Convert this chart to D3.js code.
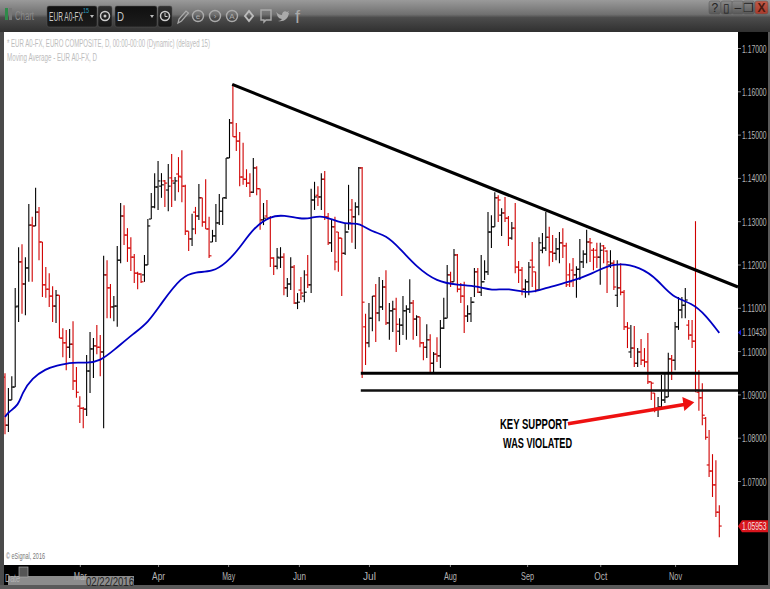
<!DOCTYPE html>
<html>
<head>
<meta charset="utf-8">
<script src="https://cdnjs.cloudflare.com/ajax/libs/d3/7.8.5/d3.min.js"></script>
<style>
html, body { margin: 0; padding: 0; background: #000; }
svg { display: block; }
text { font-family: "Liberation Sans", sans-serif; }
.axis path { display: none; }
.axis line { stroke: #888; }
.axis text { fill: #b4b4b4; font-size: 11px; }
</style>
</head>
<body>
<script>
// daily EUR A0-FX bars
const highs = [
1.0949,1.0915,1.0942,1.1146,1.1240,1.1247,1.1217,1.1340,1.1310,1.1377,
1.1333,1.1252,1.1194,1.1180,1.1150,1.1141,1.1129,1.1053,1.1049,1.1051,
1.1069,1.0963,1.0896,1.0871,1.0991,1.1044,1.1030,1.1060,1.1037,1.1220,
1.1210,1.1155,1.1127,1.1243,1.1342,1.1337,1.1284,1.1263,1.1224,1.1183,
1.1180,1.1222,1.1305,1.1365,1.1411,1.1439,1.1411,1.1395,1.1432,1.1455,
1.1402,1.1448,1.1464,1.1384,1.1277,1.1317,1.1333,1.1386,1.1354,1.1397,
1.1310,1.1280,1.1340,1.1363,1.1354,1.1446,1.1536,1.1617,1.1527,1.1506,
1.1481,1.1420,1.1411,1.1446,1.1427,1.1375,1.1342,1.1349,1.1312,1.1217,
1.1238,1.1240,1.1226,1.1169,1.1217,1.1199,1.1134,1.1171,1.1187,1.1222,
1.1375,1.1391,1.1381,1.1411,1.1416,1.1319,1.1303,1.1310,1.1275,1.1261,
1.1296,1.1384,1.1351,1.1344,1.1425,1.1425,1.1086,1.1111,1.1127,1.1155,
1.1171,1.1164,1.1187,1.1111,1.1116,1.1123,1.1076,1.1127,1.1106,1.1166,
1.1118,1.1083,1.1079,1.1021,1.1062,1.1039,1.0998,1.1032,1.1072,1.1123,
1.1199,1.1183,1.1236,1.1224,1.1157,1.1160,1.1106,1.1125,1.1192,1.1192,
1.1222,1.1210,1.1321,1.1314,1.1367,1.1360,1.1330,1.1356,1.1312,1.1298,
1.1342,1.1208,1.1194,1.1166,1.1206,1.1252,1.1183,1.1263,1.1273,1.1321,
1.1287,1.1268,1.1261,1.1275,1.1284,1.1250,1.1203,1.1215,1.1196,1.1259,
1.1233,1.1280,1.1261,1.1238,1.1250,1.1250,1.1245,1.1233,1.1233,1.1210,
1.1210,1.1203,1.1141,1.1067,1.1060,1.1058,1.1007,1.1028,1.1007,1.1042,
1.0929,1.0903,1.0894,1.0945,1.0949,1.0996,1.0991,1.1067,1.1125,1.1125,
1.1146,1.1072,1.1072,1.1300,1.0956,1.0926,1.0848,1.0818,1.0762,1.0748,1.0644];

const lows = [
1.0808,1.0813,1.0887,1.0917,1.1067,1.1086,1.1083,1.1160,1.1160,1.1289,
1.1210,1.1125,1.1123,1.1102,1.1067,1.1065,1.1030,1.0986,1.0956,1.0984,
1.0910,1.0892,1.0834,1.0822,1.0850,1.0903,1.0938,1.0993,1.0942,1.0822,
1.1076,1.1076,1.1069,1.1056,1.1203,1.1245,1.1206,1.1185,1.1157,1.1143,
1.1157,1.1160,1.1199,1.1305,1.1330,1.1326,1.1354,1.1333,1.1323,1.1333,
1.1347,1.1367,1.1344,1.1268,1.1231,1.1243,1.1270,1.1303,1.1287,1.1282,
1.1215,1.1252,1.1252,1.1291,1.1291,1.1351,1.1446,1.1495,1.1462,1.1381,
1.1384,1.1379,1.1356,1.1365,1.1360,1.1280,1.1291,1.1307,1.1194,1.1176,
1.1189,1.1192,1.1129,1.1125,1.1141,1.1109,1.1097,1.1118,1.1113,1.1146,
1.1134,1.1326,1.1335,1.1326,1.1303,1.1245,1.1229,1.1187,1.1183,1.1127,
1.1222,1.1280,1.1250,1.1236,1.1314,1.0938,1.0968,1.1009,1.1046,1.1021,
1.1069,1.1095,1.1060,1.1026,1.1044,1.0998,1.1014,1.1037,1.1026,1.1088,
1.1026,1.1035,1.1009,1.0979,1.0984,1.0952,1.0952,1.0975,1.0961,1.1051,
1.1076,1.1148,1.1160,1.1136,1.1111,1.1042,1.1067,1.1067,1.1125,1.1134,
1.1127,1.1164,1.1176,1.1238,1.1287,1.1298,1.1266,1.1298,1.1243,1.1257,
1.1180,1.1157,1.1129,1.1123,1.1129,1.1148,1.1136,1.1141,1.1226,1.1231,
1.1196,1.1206,1.1210,1.1203,1.1215,1.1148,1.1148,1.1148,1.1123,1.1164,
1.1192,1.1203,1.1206,1.1187,1.1192,1.1153,1.1203,1.1134,1.1192,1.1141,
1.1102,1.1129,1.1049,1.1007,1.0984,1.0963,1.0963,1.0968,1.0963,1.0924,
1.0887,1.0859,1.0848,1.0871,1.0880,1.0894,1.0933,1.0956,1.1049,1.1076,
1.1076,1.1026,1.1007,1.0905,1.0862,1.0829,1.0795,1.0709,1.0663,1.0617,1.0570];

const opens = [
1.0940,1.0829,1.0887,1.0917,1.1104,1.1206,1.1155,1.1192,1.1291,1.1289,
1.1321,1.1252,1.1153,1.1143,1.1127,1.1104,1.1129,1.1030,1.1019,1.1009,
1.1016,1.0931,1.0873,1.0868,1.0866,1.0954,1.1005,1.1012,1.1009,1.0998,
1.1176,1.1146,1.1102,1.1104,1.1210,1.1312,1.1268,1.1238,1.1217,1.1180,
1.1178,1.1176,1.1199,1.1305,1.1333,1.1379,1.1381,1.1393,1.1372,1.1400,
1.1388,1.1409,1.1402,1.1381,1.1277,1.1259,1.1321,1.1312,1.1354,1.1298,
1.1282,1.1252,1.1266,1.1296,1.1323,1.1354,1.1446,1.1527,1.1495,1.1485,
1.1402,1.1397,1.1388,1.1367,1.1423,1.1375,1.1303,1.1312,1.1307,1.1215,
1.1196,1.1215,1.1217,1.1146,1.1155,1.1194,1.1111,1.1141,1.1127,1.1176,
1.1153,1.1349,1.1360,1.1356,1.1397,1.1310,1.1250,1.1287,1.1275,1.1261,
1.1226,1.1275,1.1326,1.1310,1.1333,1.1423,1.1056,1.1019,1.1076,1.1127,
1.1088,1.1102,1.1148,1.1065,1.1093,1.1097,1.1046,1.1060,1.1093,1.1097,
1.1111,1.1074,1.1079,1.1019,1.1009,1.1026,1.0972,1.0993,1.0989,1.1053,
1.1076,1.1176,1.1160,1.1222,1.1143,1.1127,1.1081,1.1086,1.1113,1.1183,
1.1136,1.1160,1.1183,1.1275,1.1287,1.1354,1.1314,1.1319,1.1307,1.1261,
1.1284,1.1194,1.1187,1.1143,1.1160,1.1210,1.1183,1.1141,1.1233,1.1238,
1.1263,1.1229,1.1226,1.1236,1.1250,1.1243,1.1176,1.1187,1.1176,1.1189,
1.1206,1.1224,1.1252,1.1233,1.1233,1.1217,1.1243,1.1231,1.1199,1.1203,
1.1129,1.1146,1.1136,1.1056,1.0998,1.1007,1.0972,1.0998,1.0979,1.0975,
1.0929,1.0903,1.0868,1.0871,1.0887,1.0894,1.0982,1.0979,1.1056,1.1095,
1.1106,1.1060,1.1037,1.1023,1.0905,1.0892,1.0845,1.0737,1.0723,1.0691,1.0628];

const closes = [
1.0829,1.0887,1.0917,1.1102,1.1206,1.1155,1.1192,1.1291,1.1289,1.1321,
1.1252,1.1153,1.1143,1.1127,1.1104,1.1129,1.1030,1.1019,1.1009,1.1016,
1.0931,1.0905,1.0868,1.0866,1.0954,1.1005,1.1012,1.1009,1.0998,1.1176,
1.1146,1.1102,1.1104,1.1210,1.1312,1.1268,1.1238,1.1217,1.1180,1.1178,
1.1160,1.1199,1.1289,1.1333,1.1379,1.1393,1.1384,1.1388,1.1381,1.1393,
1.1393,1.1404,1.1381,1.1277,1.1259,1.1282,1.1312,1.1354,1.1298,1.1282,
1.1220,1.1266,1.1296,1.1323,1.1354,1.1446,1.1527,1.1495,1.1485,1.1402,
1.1397,1.1388,1.1367,1.1423,1.1375,1.1303,1.1307,1.1307,1.1215,1.1196,
1.1217,1.1217,1.1146,1.1155,1.1194,1.1111,1.1113,1.1134,1.1136,1.1153,
1.1349,1.1356,1.1356,1.1397,1.1310,1.1250,1.1287,1.1206,1.1261,1.1226,
1.1275,1.1296,1.1310,1.1333,1.1423,1.1113,1.1019,1.1076,1.1127,1.1088,
1.1102,1.1148,1.1065,1.1093,1.1097,1.1062,1.1060,1.1093,1.1097,1.1111,
1.1074,1.1079,1.1019,1.1009,1.1026,1.0972,1.0993,1.0989,1.1053,1.1076,
1.1176,1.1160,1.1222,1.1143,1.1127,1.1081,1.1086,1.1113,1.1183,1.1136,
1.1160,1.1183,1.1275,1.1287,1.1354,1.1349,1.1319,1.1307,1.1261,1.1284,
1.1194,1.1187,1.1143,1.1160,1.1194,1.1194,1.1141,1.1250,1.1238,1.1263,
1.1229,1.1226,1.1236,1.1250,1.1243,1.1153,1.1160,1.1176,1.1189,1.1206,
1.1224,1.1252,1.1250,1.1217,1.1217,1.1233,1.1238,1.1206,1.1203,1.1148,
1.1146,1.1136,1.1056,1.1053,1.1007,1.0972,1.0998,1.0979,1.0975,1.0929,
1.0926,1.0868,1.0871,1.0887,1.0894,1.0982,1.0979,1.1056,1.1095,1.1106,
1.1118,1.1037,1.1023,1.0910,1.0892,1.0852,1.0801,1.0723,1.0691,1.0628,1.0596];

// moving average, read at these bar numbers
const maBars = [0,1,4,5,8,12,15,20,24,28,32,38,42,46,52,56,61,65,69,73,78,82,87,90,93,98,102,104,108,112,116,121,127,133,139,143,148,154,159,166,172,179,187,192,196,202,206,210];
const maValues = [
1.0848,1.0859,1.0875,1.0903,1.0938,1.0959,1.0966,1.0975,1.0972,1.0977,
1.1002,1.1042,1.1065,1.1111,1.1173,1.1183,1.1183,1.1203,1.1238,1.1284,
1.1312,1.1314,1.1305,1.1307,1.1314,1.1298,1.1293,1.1296,1.1275,1.1268,
1.1238,1.1194,1.1160,1.1153,1.1150,1.1139,1.1146,1.1132,1.1146,1.1160,
1.1176,1.1206,1.1194,1.1164,1.1125,1.1111,1.1083,1.1042];

const priceTicks = [1.17,1.16,1.15,1.14,1.13,1.12,1.11,1.10,1.09,1.08,1.07];
const monthTicks = [22,45,65.6,86.4,107,130.8,153.5,175,197];
const monthLabels = ["Mar","Apr","May","Jun","Jul","Aug","Sep","Oct","Nov"];

const lastPrice = 1.05953;
const lastMa = 1.10430;

// hand drawn lines: [bar, price, bar, price]
const trendLine = [66.8, 1.1616, 215.5, 1.1148];
const supportTop = [104.6, 1.0949, 215.5, 1.0949];
const supportBottom = [104.6, 1.0909, 215.5, 1.0909];
const arrowLine = [165.5, 1.0832, 200.6, 1.0878];

const width = 770, height = 589;

const x = d3.scaleLinear().domain([0, 210]).range([5, 719.3]);
const y = d3.scaleLinear().domain([1.07, 1.17]).range([481, 48]);

const svg = d3.select("body").append("svg")
  .attr("width", width)
  .attr("height", height);

const defs = svg.append("defs");

function gradient(id, stops) {
  let g = defs.append("linearGradient").attr("id", id)
    .attr("x1", 0).attr("y1", 0).attr("x2", 0).attr("y2", 1);
  stops.forEach(s => g.append("stop").attr("offset", s[0]).attr("stop-color", s[1]));
}
gradient("head", [[0, "#9a9a9a"], [0.45, "#707070"], [0.55, "#4c4c4c"], [1, "#303030"]]);
gradient("btn", [[0, "#8a8a8a"], [1, "#585858"]]);
gradient("btnRed", [[0, "#c05a48"], [1, "#a83a2c"]]);
gradient("field", [[0, "#101010"], [1, "#1c1c1c"]]);
gradient("fieldBtn", [[0, "#303030"], [1, "#141414"]]);

defs.append("clipPath").attr("id", "plot")
  .append("rect").attr("x", 4).attr("y", 32).attr("width", 734).attr("height", 533);

// the wide font has to be squeezed to the width it has in the screenshot
function squeeze(sel, w) {
  return sel.attr("textLength", w).attr("lengthAdjust", "spacingAndGlyphs");
}
// same thing with a transform, for the labels close to the right edge
function narrow(sel, x0, y0, k) {
  return sel.attr("x", 0).attr("y", 0).attr("dy", null)
    .attr("transform", `translate(${x0},${y0}) scale(${k},1)`);
}

// frame
svg.append("rect").attr("width", width).attr("height", height).attr("fill", "#000");
svg.append("rect").attr("width", width).attr("height", 32).attr("fill", "url(#head)");
svg.append("rect").attr("x", 0).attr("y", 32).attr("width", 4).attr("height", 557).attr("fill", "#4a4a4a");
svg.append("rect").attr("x", 4).attr("y", 32).attr("width", 734).attr("height", 533).attr("fill", "#fff");
svg.append("rect").attr("x", 0).attr("y", 585).attr("width", width).attr("height", 4).attr("fill", "#5a5a5a");
svg.append("rect").attr("x", 768).attr("y", 32).attr("width", 2).attr("height", 557).attr("fill", "#5a5a5a");

// toolbar
let bar = svg.append("g");
bar.append("rect").attr("x", 5).attr("y", 8).attr("width", 3).attr("height", 12).attr("fill", "#2f8a4a");
bar.append("rect").attr("x", 9).attr("y", 8).attr("width", 3).attr("height", 12).attr("fill", "#777");
squeeze(bar.append("text").attr("x", 15).attr("y", 20).attr("font-size", 12).attr("fill", "#8a8a8a").text("Chart"), 19);

function field(x0, w, label, textW) {
  bar.append("rect").attr("x", x0).attr("y", 6).attr("width", w).attr("height", 21).attr("rx", 2)
    .attr("fill", "url(#field)").attr("stroke", "#555").attr("stroke-width", 0.5);
  squeeze(bar.append("text").attr("x", x0 + 2).attr("y", 21).attr("font-size", 12).attr("fill", "#c8c8c8").text(label), textW);
  bar.append("path").attr("d", `M${x0 + w - 7},15h4l-2,3z`).attr("fill", "#bbb");
}
field(47, 50, "EUR A0-FX", 34);
squeeze(bar.append("text").attr("x", 83).attr("y", 13).attr("font-size", 8).attr("fill", "#2a9fc0").text("15"), 6);
field(115, 42, "D", 7);

function fieldButton(cx) {
  bar.append("rect").attr("x", cx - 7).attr("y", 6).attr("width", 14).attr("height", 21).attr("rx", 2)
    .attr("fill", "url(#fieldBtn)").attr("stroke", "#555").attr("stroke-width", 0.5);
  bar.append("circle").attr("cx", cx).attr("cy", 16).attr("r", 4.5)
    .attr("fill", "none").attr("stroke", "#ccc").attr("stroke-width", 1.5);
}
fieldButton(105);
bar.append("circle").attr("cx", 105).attr("cy", 16).attr("r", 1.5).attr("fill", "#ccc");
fieldButton(165);
bar.append("path").attr("d", "M165,13v3.5h2.5").attr("fill", "none").attr("stroke", "#ccc");

// pencil, round tools, speech box, bird, f
bar.append("path").attr("d", "M178,23l1,-4l7,-8l2.5,2l-7,8z")
  .attr("fill", "none").attr("stroke", "#aaa").attr("stroke-width", 1.2);
[198, 215, 232].forEach((cx, k) => {
  bar.append("circle").attr("cx", cx).attr("cy", 16).attr("r", 5.5)
    .attr("fill", "none").attr("stroke", "#aaa").attr("stroke-width", 1.4);
  bar.append("text").attr("x", cx).attr("y", 19).attr("text-anchor", "middle")
    .attr("font-size", 8).attr("fill", "#aaa").text(["e", "›", "A"][k]);
});
bar.append("path").attr("d", "M245,16l4,-5l4,5l-4,5z")
  .attr("fill", "none").attr("stroke", "#bbb").attr("stroke-width", 2);
bar.append("path").attr("d", "M261,10h10v10h-5l-2,2v-2h-3z")
  .attr("fill", "none").attr("stroke", "#aaa").attr("stroke-width", 1.4);
bar.append("path").attr("d", "M276,12c2,2 4,3 6,3c0,-3 3,-5 5,-3l2,-1l-1,2l1,0c-1,6 -5,9 -11,8c2,0 3,-1 4,-2c-3,0 -5,-3 -5,-5z")
  .attr("fill", "#aaa");
bar.append("text").attr("x", 295).attr("y", 23).attr("font-size", 18).attr("fill", "#aaa").text("f");

// window buttons
[[709, "?"], [721, "▯"], [732, "–"], [743, "❐"], [755, "X"]].forEach((b, k) => {
  svg.append("rect").attr("x", b[0]).attr("y", 1).attr("width", k == 4 ? 13 : 11.5).attr("height", 13).attr("rx", 2)
    .attr("fill", k == 4 ? "url(#btnRed)" : "url(#btn)").attr("stroke", "#555").attr("stroke-width", 0.5);
  svg.append("text").attr("x", b[0] + (k == 4 ? 6.5 : 5.75)).attr("y", 12).attr("text-anchor", "middle")
    .attr("font-size", 12).attr("font-weight", k == 4 ? "bold" : "normal")
    .attr("fill", k == 4 ? "#4a1a10" : "#222").text(b[1]);
});

// notes in the plot
squeeze(svg.append("text").attr("x", 7).attr("y", 47).attr("font-size", 10).attr("fill", "#bdbdbd")
  .text("* EUR A0-FX, EURO COMPOSITE, D, 00:00-00:00 (Dynamic) (delayed 15)"), 203);
squeeze(svg.append("text").attr("x", 7).attr("y", 61).attr("font-size", 10).attr("fill", "#bdbdbd")
  .text("Moving Average - EUR A0-FX, D"), 90);
squeeze(svg.append("text").attr("x", 6).attr("y", 559).attr("font-size", 9).attr("fill", "#777")
  .text("© eSignal, 2016"), 39);

let plot = svg.append("g").attr("clip-path", "url(#plot)");

// price bars
let bars = plot.selectAll(".ohlc")
  .data(d3.range(highs.length))
  .enter()
  .append("g")
  .attr("class", "ohlc")
  .attr("stroke", i => closes[i] < opens[i] ? "#d00000" : "#000")
  .attr("stroke-width", 1.1);

bars.append("line")
  .attr("x1", i => x(i)).attr("x2", i => x(i))
  .attr("y1", i => y(highs[i])).attr("y2", i => y(lows[i]));
bars.append("line")
  .attr("x1", i => x(i) - 2.4).attr("x2", i => x(i))
  .attr("y1", i => y(opens[i])).attr("y2", i => y(opens[i]));
bars.append("line")
  .attr("x1", i => x(i)).attr("x2", i => x(i) + 2.4)
  .attr("y1", i => y(closes[i])).attr("y2", i => y(closes[i]));

// moving average
let maLine = d3.line()
  .x(i => x(maBars[i]))
  .y(i => y(maValues[i]))
  .curve(d3.curveBasis);

plot.append("path")
  .attr("d", maLine(d3.range(maBars.length)))
  .attr("fill", "none")
  .attr("stroke", "#0000c4")
  .attr("stroke-width", 1.8);

// drawn lines
function drawn(l, color, w) {
  return plot.append("line")
    .attr("x1", x(l[0])).attr("y1", y(l[1]))
    .attr("x2", x(l[2])).attr("y2", y(l[3]))
    .attr("stroke", color)
    .attr("stroke-width", w);
}
drawn(trendLine, "#000", 3.2);
drawn(supportTop, "#000", 3);
drawn(supportBottom, "#111", 2.6);
drawn(arrowLine, "#ee1111", 3.6);

let ax = x(arrowLine[2]), ay = y(arrowLine[3]);
plot.append("path")
  .attr("d", `M${ax - 5},${ay - 7}L${ax + 7},${ay - 1.6}L${ax - 3},${ay + 7}z`)
  .attr("fill", "#ee1111");

// annotation
[["KEY SUPPORT", 500, 429, 68], ["WAS VIOLATED", 503, 448, 69]].forEach(t => {
  squeeze(svg.append("text").attr("x", t[1]).attr("y", t[2])
    .attr("font-size", 14).attr("font-weight", "bold").attr("fill", "#000").text(t[0]), t[3]);
});

// right axis
let right = svg.append("g")
  .attr("class", "axis")
  .attr("transform", "translate(738,0)")
  .call(d3.axisRight(y).tickValues(priceTicks).tickSize(3).tickPadding(1).tickFormat(d3.format(".5f")));
narrow(right.selectAll("text"), 4, 4, 0.62);

function priceTag(v, color, text) {
  let py = y(v);
  svg.append("path")
    .attr("d", `M738,${py}l4,-6h26v12h-26z`)
    .attr("fill", color);
  narrow(svg.append("text").attr("font-size", 11).attr("fill", text)
    .text(d3.format(".5f")(v)), 742, py + 4, 0.62);
}
priceTag(lastMa, "#000", "#b4b4b4");
svg.append("path").attr("d", `M738,${y(lastMa)}l3,-3v6z`).attr("fill", "#1a1ad8");
priceTag(lastPrice, "#d8141c", "#f4e0e0");

// crosshair date tag left over on the time scale, behind the month labels
svg.append("rect").attr("x", 8).attr("y", 576).attr("width", 126).attr("height", 9).attr("fill", "#8c8c8c");
svg.append("rect").attr("x", 19).attr("y", 567).attr("width", 9).attr("height", 10)
  .attr("fill", "#555").attr("stroke", "#aaa").attr("stroke-width", 0.7);
squeeze(svg.append("text").attr("x", 5).attr("y", 582).attr("font-size", 11).attr("fill", "#b4b4b4").text("Date"), 15);
squeeze(svg.append("text").attr("x", 86).attr("y", 586).attr("font-size", 12).attr("fill", "#222").text("02/22/2016"), 48);

// bottom axis
let bottom = svg.append("g")
  .attr("class", "axis")
  .attr("transform", "translate(0,565)")
  .call(d3.axisBottom(x).tickValues(monthTicks).tickSize(2).tickPadding(5)
    .tickFormat((d, k) => monthLabels[k]));
squeeze(bottom.selectAll("text"), 13);
</script>
</body>
</html>
